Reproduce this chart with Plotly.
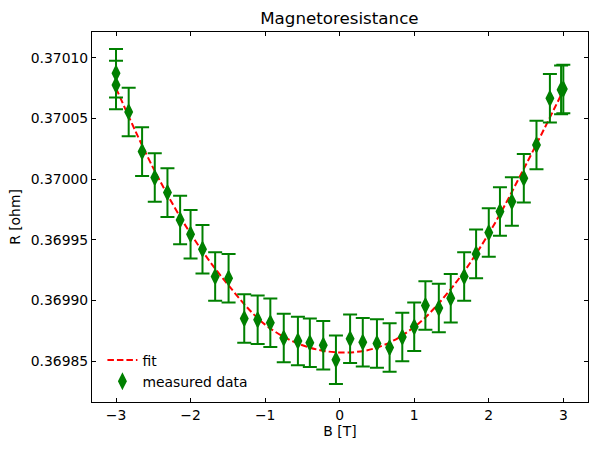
import plotly.graph_objects as go

# measured data
B_data = [-3.00, -3.00, -2.83, -2.65, -2.48, -2.31, -2.14, -2.00, -1.84, -1.67,
          -1.49, -1.28, -1.10, -0.93, -0.75, -0.56, -0.40, -0.22, -0.05, 0.14,
          0.31, 0.50, 0.67, 0.84, 1.00, 1.15, 1.33, 1.49, 1.67, 1.83,
          2.00, 2.15, 2.31, 2.47, 2.64, 2.82, 2.97, 3.00]
R_data = [0.3700872, 0.3700775, 0.3700553, 0.3700226, 0.3700012, 0.3699888, 0.3699663, 0.3699545, 0.3699422, 0.3699196,
          0.3699183, 0.3698850, 0.3698840, 0.3698815, 0.3698689, 0.3698665, 0.3698650, 0.3698630, 0.3698510, 0.3698683,
          0.3698655, 0.3698645, 0.3698611, 0.3698697, 0.3698782, 0.3698957, 0.3698936, 0.3699018, 0.3699196, 0.3699383,
          0.3699559, 0.3699732, 0.3699814, 0.3700007, 0.3700281, 0.3700665, 0.3700735, 0.3700742]
R_err = [0.00002] * len(R_data)

# fit curve
B_fit = [-3.0, -2.5, -2.0, -1.5, -1.0, -0.5, 0.0, 0.5, 1.0, 1.5, 2.0, 2.5, 3.0]
R_fit = [0.370075, 0.370009, 0.369955, 0.369913, 0.369880, 0.369863, 0.369857,
         0.369861, 0.369878, 0.369910, 0.369955, 0.370012, 0.370073]

y_ticks = [0.36985, 0.36990, 0.36995, 0.37000, 0.37005, 0.37010]
x_ticks = [-3, -2, -1, 0, 1, 2, 3]

FONT = "DejaVu Sans"

fig = go.Figure()
fig.add_trace(go.Scatter(
    x=B_fit, y=R_fit, mode="lines", name="fit", line_shape="spline",
    line=dict(color="red", width=2, dash="6.5px,3px"),
))
fig.add_trace(go.Scatter(
    x=B_data, y=R_data, mode="markers", name="measured data",
    marker=dict(symbol="diamond-tall", size=10, color="green",
                line=dict(color="green", width=1.8)),
    error_y=dict(type="data", array=R_err, visible=True, color="green",
                 thickness=2, width=7),
))

axis_common = dict(
    showline=True, linecolor="black", linewidth=1, mirror="allticks",
    ticks="inside", ticklen=4, tickwidth=1, tickcolor="black",
    showgrid=False, zeroline=False, automargin=False,
    tickfont=dict(family=FONT, size=13.9, color="black"),
)

fig.update_layout(
    width=597, height=450,
    margin=dict(l=92, r=9, t=32, b=48, autoexpand=False),
    paper_bgcolor="white", plot_bgcolor="white",
    font=dict(family=FONT, size=13.9, color="black"),
    title=dict(text="Magnetoresistance", x=0.5685, xanchor="center",
               y=1 - 18 / 450, yanchor="middle", yref="container",
               automargin=False,
               font=dict(family=FONT, size=16.7, color="black")),
    xaxis=dict(range=[-3.322, 3.331], tickvals=x_ticks,
               title=dict(text="B [T]", standoff=4,
                          font=dict(family=FONT, size=13.9)),
               **axis_common),
    yaxis=dict(range=[0.3698162, 0.3701212], tickvals=y_ticks,
               tickformat=".5f",
               title=dict(text="R [ohm]", standoff=6,
                          font=dict(family=FONT, size=13.9)),
               **axis_common),
    legend=dict(x=0.021, y=0.012, xanchor="left", yanchor="bottom",
                bgcolor="rgba(0,0,0,0)", borderwidth=0,
                font=dict(family=FONT, size=13.9, color="black"),
                tracegroupgap=0),
    showlegend=True,
)

fig.write_html("out.html", config={"displayModeBar": False})

# remove the default page margin so the figure sits at the window's top-left corner
with open("out.html", "r", encoding="utf-8") as f:
    html = f.read()
html = html.replace("<head>", "<head><style>html,body{margin:0;padding:0;overflow:hidden;}</style>", 1)
with open("out.html", "w", encoding="utf-8") as f:
    f.write(html)
